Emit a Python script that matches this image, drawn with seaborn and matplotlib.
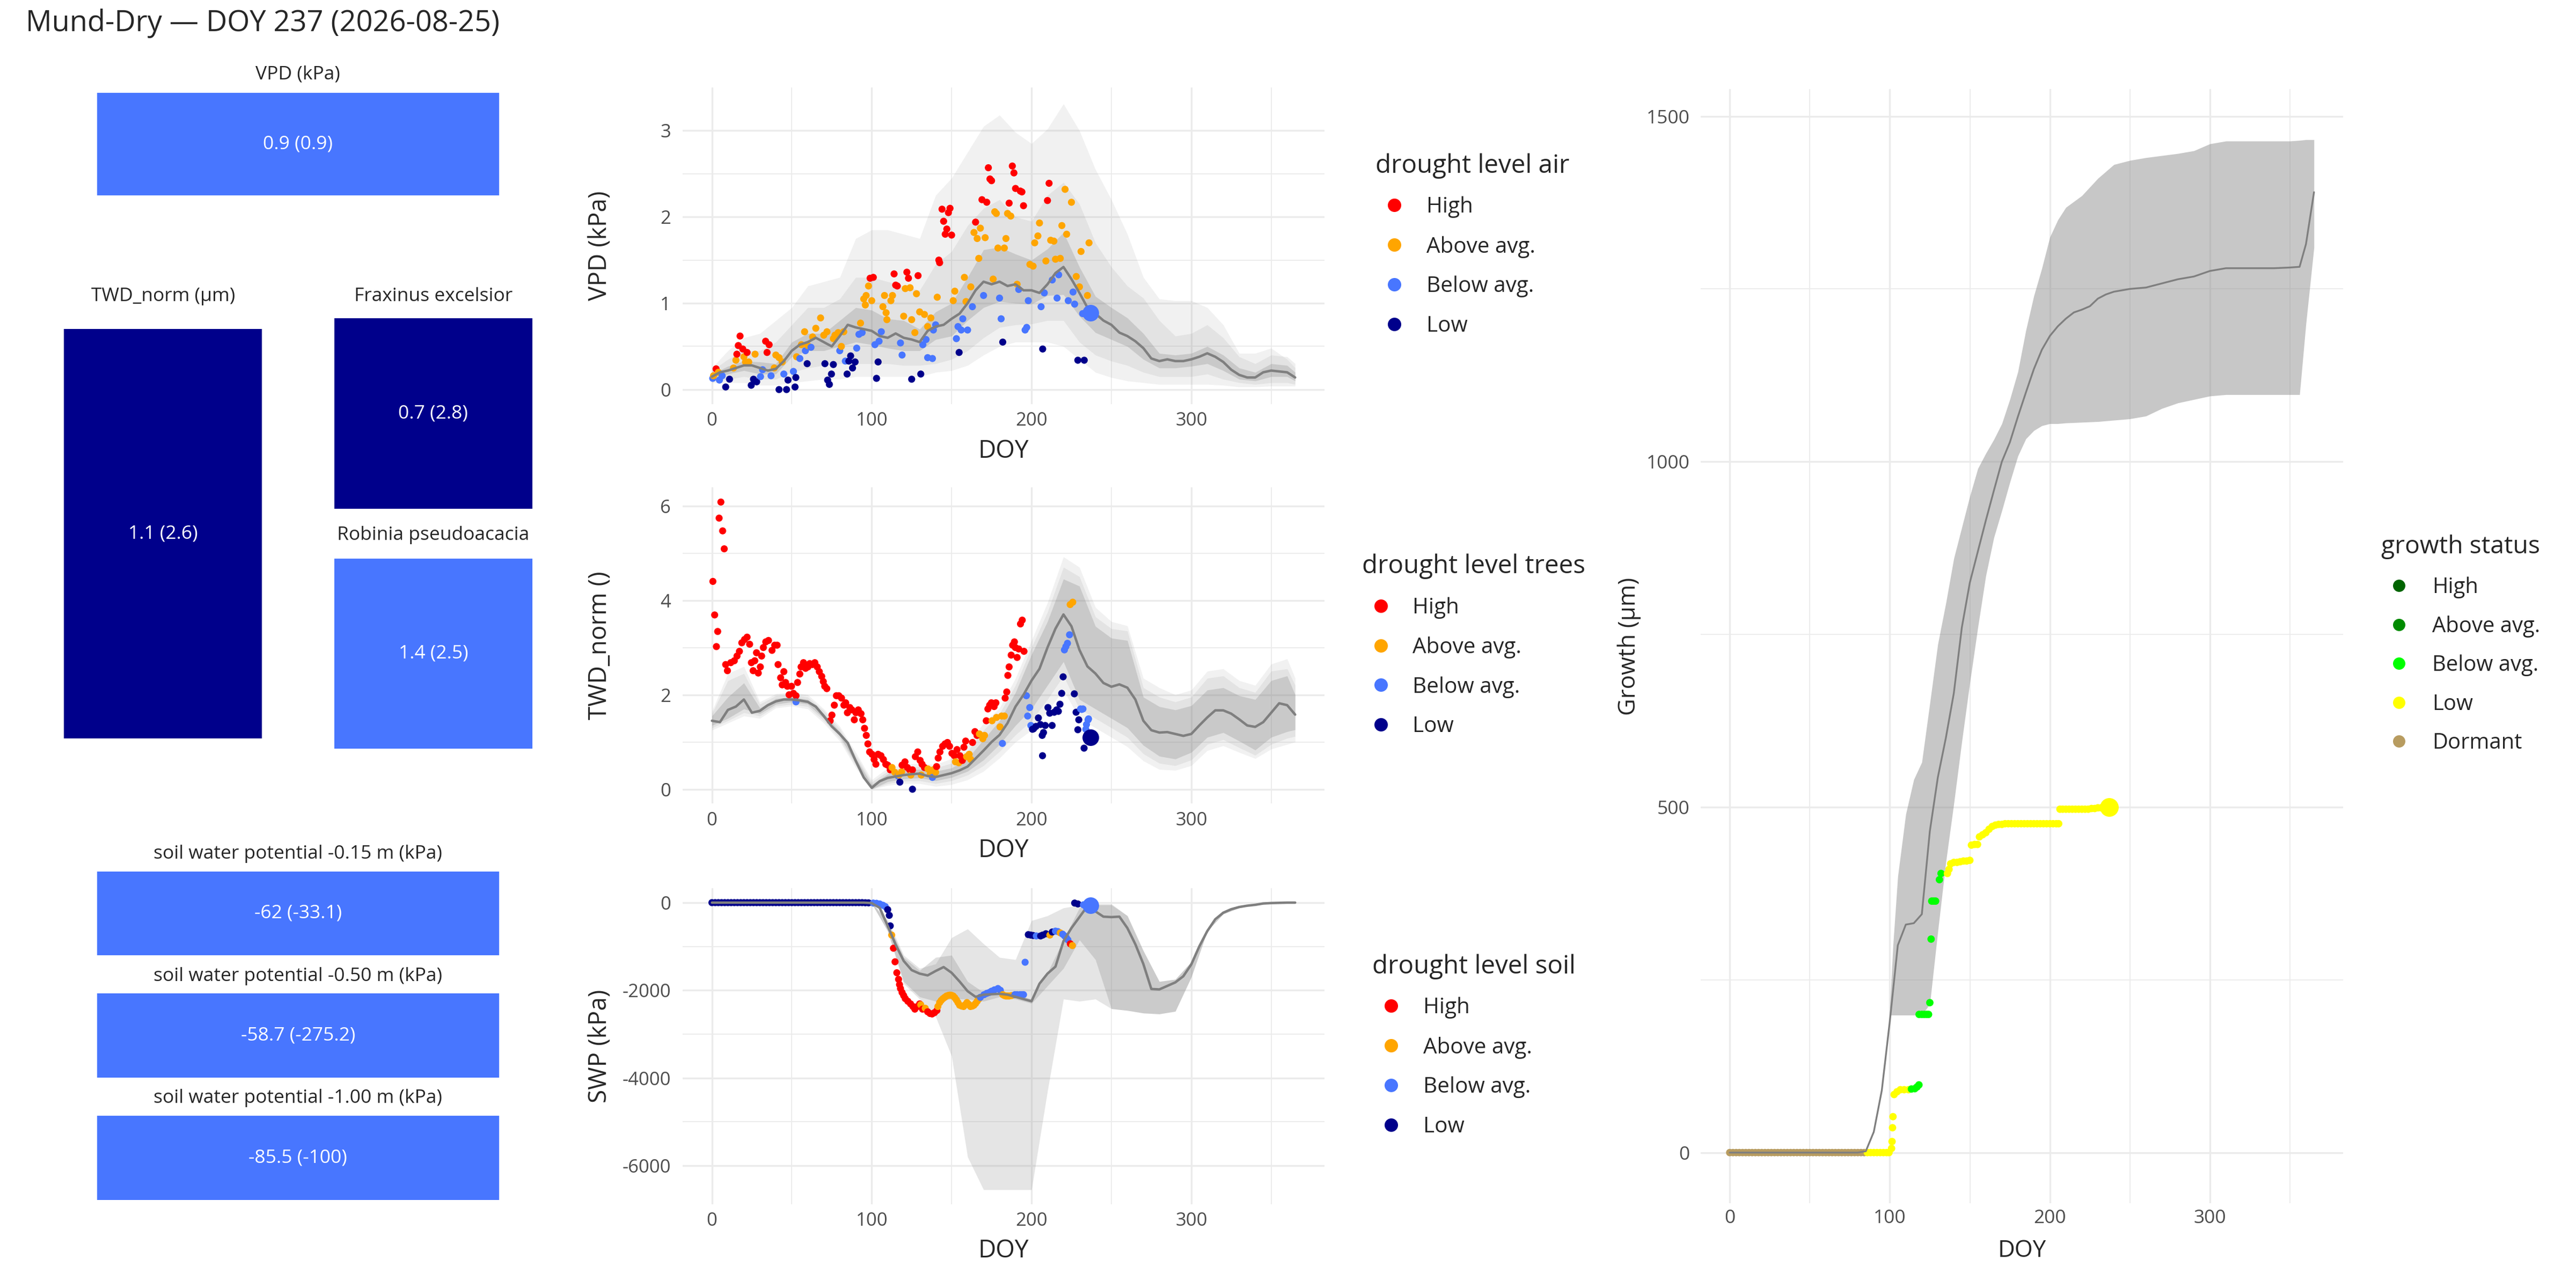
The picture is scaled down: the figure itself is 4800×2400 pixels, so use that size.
import matplotlib
matplotlib.use("Agg")
import matplotlib.pyplot as plt
from matplotlib.lines import Line2D
import pandas as pd
import seaborn as sns

sns.set_style("white")
plt.rcParams["font.family"] = ["Open Sans", "DejaVu Sans"]
plt.rcParams["axes.unicode_minus"] = False

# --------------------------------------------------------------------------
# Data
# --------------------------------------------------------------------------

TITLE = "Mund-Dry — DOY 237 (2026-08-25)"

LEVELS = ["High", "Above avg.", "Below avg.", "Low"]
LEVEL_COLORS = ["#FF0000", "#FFA500", "#4876FF", "#00008B"]
GROWTH_LEVELS = ["High", "Above avg.", "Below avg.", "Low", "Dormant"]
GROWTH_COLORS = ["#006400", "#008B00", "#00FF00", "#FFFF00", "#B89C60"]

# summary tiles on the left
TILE_NAMES = ["VPD (kPa)", "TWD_norm (µm)", "Fraxinus excelsior", "Robinia pseudoacacia",
              "soil water potential -0.15 m (kPa)", "soil water potential -0.50 m (kPa)",
              "soil water potential -1.00 m (kPa)"]
TILE_TEXT = ["0.9 (0.9)", "1.1 (2.6)", "0.7 (2.8)", "1.4 (2.5)",
             "-62 (-33.1)", "-58.7 (-275.2)", "-85.5 (-100)"]
TILE_LEVEL = ["Below avg.", "Low", "Low", "Below avg.", "Below avg.", "Below avg.", "Below avg."]

# day-of-year grids for the climatology ribbons (10 d) and medians (5 d)
BAND_DOY = [0, 10, 20, 30, 40, 50, 60, 70, 80, 90, 100, 110, 120, 130, 140, 150, 160, 170, 180,
            190, 200, 210, 220, 230, 240, 250, 260, 270, 280, 290, 300, 310, 320, 330, 340, 350,
            360, 365]
MED_DOY = [0, 5, 10, 15, 20, 25, 30, 35, 40, 45, 50, 55, 60, 65, 70, 75, 80, 85, 90, 95, 100, 105,
           110, 115, 120, 125, 130, 135, 140, 145, 150, 155, 160, 165, 170, 175, 180, 185, 190,
           195, 200, 205, 210, 215, 220, 225, 230, 235, 240, 245, 250, 255, 260, 265, 270, 275,
           280, 285, 290, 295, 300, 305, 310, 315, 320, 325, 330, 335, 340, 345, 350, 355, 360,
           365]

# ---- VPD ----
VPD_MED = [0.15, 0.20, 0.22, 0.25, 0.28, 0.28, 0.25, 0.22, 0.24, 0.33, 0.45, 0.52, 0.55, 0.60,
           0.55, 0.50, 0.62, 0.75, 0.72, 0.70, 0.68, 0.62, 0.60, 0.65, 0.60, 0.58, 0.55, 0.68,
           0.73, 0.75, 0.82, 0.88, 1.00, 1.15, 1.25, 1.22, 1.25, 1.20, 1.22, 1.15, 1.15, 1.12,
           1.22, 1.35, 1.42, 1.28, 1.12, 0.95, 0.88, 0.80, 0.75, 0.66, 0.62, 0.56, 0.48, 0.36,
           0.33, 0.35, 0.33, 0.33, 0.35, 0.38, 0.42, 0.38, 0.32, 0.23, 0.17, 0.14, 0.14, 0.20,
           0.22, 0.21, 0.20, 0.14]
VPD_DARK_HI = [0.18, 0.27, 0.33, 0.32, 0.30, 0.55, 0.65, 0.65, 0.80, 0.95, 0.92, 0.82, 0.80, 0.70,
               0.90, 1.00, 1.30, 1.62, 1.65, 1.57, 1.50, 1.63, 1.82, 1.42, 1.08, 0.95, 0.83, 0.65,
               0.42, 0.40, 0.42, 0.50, 0.40, 0.25, 0.20, 0.30, 0.28, 0.20]
VPD_DARK_LO = [0.12, 0.18, 0.22, 0.18, 0.18, 0.38, 0.45, 0.45, 0.50, 0.55, 0.52, 0.48, 0.45, 0.45,
               0.58, 0.62, 0.80, 0.95, 1.02, 1.00, 0.99, 1.09, 1.10, 0.85, 0.66, 0.58, 0.50, 0.35,
               0.25, 0.25, 0.27, 0.30, 0.22, 0.12, 0.10, 0.15, 0.15, 0.10]
VPD_MID_HI = [0.22, 0.35, 0.45, 0.45, 0.55, 0.75, 0.95, 0.95, 1.05, 1.30, 1.30, 1.25, 1.20, 1.15,
              1.45, 1.60, 1.90, 2.10, 2.20, 2.00, 1.95, 2.25, 2.40, 2.15, 1.70, 1.42, 1.20, 1.06,
              0.80, 0.62, 0.65, 0.75, 0.60, 0.38, 0.30, 0.40, 0.38, 0.30]
VPD_MID_LO = [0.10, 0.12, 0.15, 0.12, 0.12, 0.20, 0.25, 0.28, 0.30, 0.30, 0.30, 0.30, 0.28, 0.28,
              0.30, 0.35, 0.45, 0.60, 0.72, 0.75, 0.76, 0.80, 0.80, 0.55, 0.40, 0.33, 0.28, 0.20,
              0.15, 0.15, 0.15, 0.18, 0.12, 0.08, 0.06, 0.08, 0.08, 0.06]
VPD_OUT_HI = [0.25, 0.45, 0.60, 0.65, 0.80, 0.95, 1.20, 1.25, 1.30, 1.75, 1.85, 1.85, 1.80, 1.75,
              2.25, 2.45, 2.75, 3.05, 3.18, 2.98, 2.85, 3.02, 3.31, 3.00, 2.55, 2.20, 1.80, 1.30,
              1.05, 1.03, 1.03, 0.95, 0.75, 0.42, 0.42, 0.48, 0.35, 0.25]
VPD_OUT_LO = [0.08, 0.08, 0.08, 0.05, 0.05, 0.08, 0.10, 0.12, 0.12, 0.15, 0.15, 0.15, 0.15, 0.15,
              0.20, 0.22, 0.28, 0.40, 0.50, 0.55, 0.55, 0.55, 0.50, 0.35, 0.20, 0.14, 0.10, 0.08,
              0.06, 0.06, 0.06, 0.06, 0.05, 0.03, 0.03, 0.04, 0.04, 0.04]

VPD_HIGH = [(2.6, 0.24), (15.6, 0.41), (16.5, 0.51), (17.6, 0.62), (19.3, 0.47), (22, 0.43),
            (33.6, 0.56), (34.5, 0.43), (35.8, 0.52), (99, 1.29), (101, 1.30), (114, 1.34),
            (115, 1.21), (116, 1.20), (122, 1.36), (123, 1.29), (129, 1.32), (142, 1.50),
            (142.5, 1.47), (144, 2.09), (145, 1.95), (146, 1.80), (147, 1.86), (148, 2.05),
            (149, 2.10), (150, 1.79), (165, 1.94), (169, 2.20), (172, 2.17), (173, 2.57),
            (174, 2.44), (175, 2.42), (186, 2.16), (188, 2.59), (189, 2.51), (190, 2.33),
            (193, 2.30), (194, 2.29), (195, 2.13), (210, 2.19), (211, 2.39)]
VPD_ABOVE = [(1, 0.16), (4, 0.20), (13.5, 0.25), (15, 0.34), (20, 0.38), (21, 0.32), (23, 0.32),
             (27, 0.41), (39, 0.25), (40, 0.40), (42, 0.37), (44, 0.32), (53, 0.38), (56, 0.52),
             (58, 0.67), (60, 0.51), (63, 0.61), (65, 0.71), (68, 0.83), (70, 0.63), (72, 0.67),
             (76, 0.59), (77, 0.63), (79, 0.66), (81, 0.50), (82.5, 0.67), (93, 0.77), (95, 1.05),
             (96, 0.98), (96.5, 1.09), (98, 1.20), (100, 1.03), (107, 0.96), (108, 1.09),
             (109, 0.89), (109.5, 0.81), (112, 1.03), (113, 1.09), (120, 0.85), (121, 1.17),
             (124, 1.18), (125, 0.81), (127, 0.66), (128, 1.11), (130, 0.90), (133, 0.87),
             (135, 0.73), (137, 0.83), (141, 1.07), (151, 1.03), (152, 1.14), (158, 1.30),
             (159, 1.02), (162, 1.19), (164, 1.82), (166, 1.75), (167, 1.52), (168, 1.87),
             (171, 1.76), (176, 1.28), (177, 2.06), (178, 2.04), (179, 1.64), (183, 1.64),
             (184, 1.75), (185, 2.04), (187, 2.01), (191, 1.22), (199, 1.45), (201, 1.43),
             (202, 1.70), (204, 1.78), (205, 1.93), (209, 1.49), (212, 1.73), (214, 1.72),
             (215, 1.51), (218, 1.52), (219, 1.90), (221, 2.32), (222, 1.80), (225, 2.17),
             (228, 1.31), (230, 1.19), (231, 1.60), (235, 1.09), (236, 1.70)]
VPD_BELOW = [(0.5, 0.13), (4.7, 0.11), (6.4, 0.16), (30.4, 0.15), (31.7, 0.23), (37, 0.16),
             (45, 0.18), (51, 0.21), (55, 0.36), (58.5, 0.45), (62, 0.49), (80, 0.45),
             (83.5, 0.33), (90.6, 0.48), (92, 0.64), (94, 0.66), (102, 0.52), (104.6, 0.56),
             (106, 0.67), (118, 0.54), (119, 0.40), (132, 0.52), (134, 0.58), (135, 0.37),
             (138, 0.36), (138.6, 0.69), (140, 0.75), (153, 0.59), (154, 0.73), (156, 0.69),
             (157, 0.82), (160, 0.69), (163, 0.96), (170, 1.09), (180, 1.06), (181, 0.82),
             (192, 1.16), (196, 0.69), (197, 0.72), (198, 1.03), (206, 0.96), (208, 1.12),
             (213, 1.27), (216, 1.06), (217, 1.33), (223, 1.03), (226, 1.13), (227, 0.99),
             (232, 0.88)]
VPD_LOW = [(8.6, 0.03), (11, 0.12), (24.6, 0.05), (26, 0.12), (28, 0.09), (42, 0.0), (46.7, 0.0),
           (47.6, 0.11), (52, 0.03), (52.5, 0.14), (59.6, 0.30), (70.7, 0.30), (72.4, 0.11),
           (73.5, 0.06), (74.8, 0.18), (76, 0.29), (84.6, 0.18), (85.7, 0.33), (86.8, 0.39),
           (88, 0.25), (89.6, 0.32), (103, 0.13), (104, 0.32), (125, 0.12), (130.7, 0.18),
           (154.7, 0.43), (182, 0.55), (207, 0.47), (229, 0.34), (233, 0.34)]
VPD_TODAY = (237, 0.89, "Below avg.")

# ---- TWD_norm ----
TWD_MED = [1.45, 1.42, 1.68, 1.75, 1.90, 1.62, 1.66, 1.78, 1.86, 1.90, 1.90, 1.88, 1.85, 1.75,
           1.55, 1.33, 1.17, 0.98, 0.60, 0.25, 0.03, 0.17, 0.24, 0.27, 0.30, 0.32, 0.33, 0.28,
           0.26, 0.30, 0.34, 0.40, 0.48, 0.65, 0.82, 1.00, 1.15, 1.40, 1.75, 2.00, 2.30, 2.55,
           3.00, 3.40, 3.70, 3.45, 2.95, 2.60, 2.45, 2.25, 2.17, 2.22, 2.15, 1.90, 1.45, 1.25,
           1.20, 1.21, 1.17, 1.13, 1.17, 1.35, 1.52, 1.67, 1.67, 1.60, 1.48, 1.35, 1.32, 1.42,
           1.62, 1.82, 1.78, 1.58]
TWD_DARK_HI = [1.55, 1.95, 2.25, 1.72, 1.92, 1.95, 1.90, 1.60, 1.22, 0.66, 0.10, 0.32, 0.40, 0.42,
               0.38, 0.45, 0.65, 1.05, 1.45, 2.05, 2.85, 3.55, 4.45, 4.30, 3.45, 3.20, 3.15, 1.95,
               1.75, 1.68, 1.77, 2.10, 2.15, 1.98, 1.90, 2.30, 2.40, 2.00]
TWD_DARK_LO = [1.35, 1.50, 1.70, 1.60, 1.80, 1.85, 1.80, 1.50, 1.12, 0.55, 0.00, 0.16, 0.22, 0.24,
               0.18, 0.25, 0.38, 0.62, 0.95, 1.35, 1.70, 2.20, 2.70, 1.90, 1.70, 1.50, 1.30, 0.93,
               0.70, 0.64, 0.78, 1.10, 1.20, 1.02, 0.83, 1.10, 1.22, 1.26]
TWD_MID_HI = [1.60, 2.30, 2.45, 1.80, 1.98, 2.00, 1.95, 1.66, 1.28, 0.72, 0.15, 0.38, 0.46, 0.48,
              0.45, 0.55, 0.80, 1.25, 1.60, 2.20, 3.00, 3.75, 4.70, 4.50, 3.65, 3.40, 3.35, 2.15,
              1.95, 1.85, 1.95, 2.35, 2.40, 2.15, 2.05, 2.50, 2.55, 2.20]
TWD_MID_LO = [1.30, 1.45, 1.62, 1.55, 1.76, 1.80, 1.75, 1.45, 1.07, 0.50, 0.00, 0.12, 0.17, 0.18,
              0.12, 0.18, 0.30, 0.50, 0.80, 1.15, 1.45, 1.90, 2.40, 1.70, 1.50, 1.30, 1.10, 0.75,
              0.55, 0.50, 0.62, 0.95, 1.05, 0.88, 0.72, 0.95, 1.08, 1.12]
TWD_OUT_HI = [1.65, 2.45, 2.60, 1.85, 2.02, 2.05, 2.00, 1.70, 1.33, 0.78, 0.20, 0.45, 0.52, 0.55,
              0.52, 0.65, 0.95, 1.40, 1.72, 2.35, 3.15, 3.95, 4.92, 4.70, 3.85, 3.55, 3.46, 2.35,
              2.15, 2.00, 2.10, 2.50, 2.55, 2.30, 2.20, 2.65, 2.76, 2.35]
TWD_OUT_LO = [1.25, 1.40, 1.55, 1.50, 1.72, 1.76, 1.70, 1.40, 1.02, 0.45, 0.00, 0.08, 0.12, 0.12,
              0.06, 0.10, 0.20, 0.38, 0.66, 1.00, 1.25, 1.65, 2.10, 1.50, 1.30, 1.10, 0.90, 0.60,
              0.42, 0.40, 0.50, 0.82, 0.92, 0.78, 0.65, 0.85, 0.95, 1.00]

TWD_HIGH = [(0.6, 4.40), (1.7, 3.69), (2.8, 3.02), (3.6, 3.34), (4.5, 5.74), (5.6, 6.08),
            (6.7, 5.47), (7.7, 5.09), (8.6, 2.64), (9.7, 2.51), (11.8, 2.68), (14, 2.72),
            (15.7, 2.82), (17.2, 2.92), (18.7, 3.10), (20.4, 3.17), (22, 3.22), (23.6, 3.07),
            (24.7, 2.68), (25.8, 2.51), (26.8, 2.72), (27.9, 2.89), (29, 2.46), (30.3, 2.59),
            (31.1, 2.82), (32.2, 3.00), (33.7, 3.12), (35.4, 3.15), (37.6, 2.94), (39.3, 3.05),
            (40.8, 3.05), (41.4, 2.64), (43, 2.36), (44, 2.21), (45, 2.49), (46.1, 2.26),
            (47.2, 2.18), (48.3, 2.00), (49.8, 2.18), (51, 2.03), (52.6, 1.98), (53.6, 2.26),
            (55, 2.44), (55.8, 2.59), (57.3, 2.68), (58.6, 2.56), (60.1, 2.59), (61.2, 2.66),
            (62.9, 2.64), (64.4, 2.68), (65.9, 2.59), (67.2, 2.49), (68.7, 2.39), (69.7, 2.28),
            (70.6, 2.18), (71.9, 2.13), (74, 1.45), (75.1, 1.57), (76.6, 1.78), (77.9, 1.98),
            (79.4, 1.98), (81.1, 1.93), (82.6, 1.78), (83.7, 1.83), (84.8, 1.62), (86.3, 1.73),
            (87.6, 1.68), (89.1, 1.47), (90.1, 1.62), (91.6, 1.68), (93.3, 1.60), (94.4, 1.47),
            (95.5, 1.29), (96.6, 1.14), (97.6, 0.96), (98.7, 0.79), (100.2, 0.74), (101.5, 0.63),
            (102.6, 0.53), (104, 0.74), (105.8, 0.71), (107.3, 0.63), (108.8, 0.53), (110, 0.51),
            (111.6, 0.41), (119, 0.51), (120.8, 0.58), (122.3, 0.46), (123.8, 0.41),
            (125.5, 0.41), (127.3, 0.69), (128.8, 0.79), (130.3, 0.61), (131.5, 0.53),
            (133, 0.46), (140.6, 0.48), (141.6, 0.66), (142.7, 0.79), (144.4, 0.91),
            (145.9, 0.96), (147.4, 0.99), (148.7, 0.91), (150.2, 0.76), (151.7, 0.71),
            (153.4, 0.84), (155.2, 0.71), (156.7, 0.61), (157.7, 0.89), (158.8, 1.02),
            (163.1, 0.99), (164.6, 1.22), (165.9, 1.14), (171.7, 1.45), (172.7, 1.70),
            (173.8, 1.78), (174.9, 1.83), (176.6, 1.75), (177.7, 1.83), (183.5, 1.93),
            (184.5, 2.06), (185.2, 2.41), (186, 2.59), (187.3, 2.84), (188.2, 3.05),
            (189.3, 3.12), (189.9, 3.00), (191, 2.79), (192, 2.97), (193.1, 3.50), (194.2, 3.58),
            (195.3, 2.92)]
TWD_ABOVE = [(112.7, 0.46), (114.4, 0.36), (117, 0.30), (118.7, 0.37), (124.5, 0.30), (131, 0.30),
             (135.2, 0.43), (136.7, 0.33), (138.4, 0.41), (140, 0.36), (152.4, 0.58),
             (154.5, 0.56), (159.4, 0.69), (161, 0.74), (162, 0.63), (167.4, 1.17),
             (169.5, 1.07), (170.6, 1.14), (175.3, 1.45), (178.1, 1.52), (180.3, 1.32),
             (181.3, 1.55), (183, 1.55), (224.2, 3.91), (225.8, 3.96)]
TWD_BELOW = [(52.6, 1.85), (116.5, 0.28), (138, 0.25), (181.8, 0.97), (196.8, 1.98), (197.6, 1.55),
             (198.9, 1.73), (199.6, 1.35), (220.6, 2.95), (221.5, 3.02), (222.5, 3.09),
             (223.8, 3.27), (230.7, 1.70), (231.4, 1.69), (232.2, 1.70), (234, 1.27),
             (234.4, 1.37), (235.4, 1.47), (235.7, 1.49)]
TWD_LOW = [(117.6, 0.15), (125.5, 0.0), (200.6, 1.27), (201.3, 1.28), (202.8, 1.33), (204.3, 1.51),
           (205.6, 1.37), (206.7, 1.14), (206.9, 0.71), (207.5, 1.20), (208.6, 1.35),
           (210.3, 1.73), (211.4, 1.61), (212.9, 1.35), (214.2, 1.63), (215.7, 1.68),
           (216.8, 1.65), (217.8, 1.80), (218.9, 2.03), (219.8, 2.38), (226.8, 2.02),
           (227.9, 1.63), (229, 1.26), (229.6, 1.47), (232.9, 0.87)]
TWD_TODAY = (237, 1.1, "Low")

# ---- soil water potential ----
SWP_MED = [0, 0, 0, 0, 0, 0, 0, 0, 0, 0, 0, 0, 0, 0, 0, 0, 0, 0, 0, 0, -10, -120, -530, -960,
           -1330, -1540, -1620, -1660, -1560, -1470, -1600, -1800, -2020, -2150, -2100, -2090,
           -2080, -2100, -2150, -2200, -2250, -1850, -1620, -1460, -880, -580, -330, -80, -200,
           -320, -330, -320, -580, -950, -1400, -1970, -1980, -1900, -1820, -1680, -1410, -1000,
           -650, -380, -230, -150, -100, -70, -50, -20, -10, -5, 0, 0]
SWP_DARK_HI = [0, 0, 0, 0, 0, 0, 0, 0, 0, 0, 0, -450, -1250, -1550, -1250, -1200, -1800, -2050,
               -2050, -2100, -2200, -1600, -850, -120, -50, -50, -300, -1100, -1800, -1750, -1350,
               -600, -230, -100, -40, -10, 0, 0]
SWP_DARK_LO = [0, 0, 0, 0, 0, 0, 0, 0, 0, 0, -20, -650, -1800, -2150, -2250, -2200, -2200, -2250,
               -2150, -2200, -2300, -1900, -1500, -850, -1300, -2420, -2460, -2520, -2540, -2480,
               -1700, -650, -260, -120, -50, -10, 0, 0]
SWP_OUT_HI = [0, 0, 0, 0, 0, 0, 0, 0, 0, 0, 0, -400, -1200, -1500, -1400, -800, -600, -940, -1250,
              -1300, -410, -300, -120, -60, -30, -30, -300, -1100, -1800, -1750, -1350, -600,
              -230, -100, -40, -10, 0, 0]
SWP_OUT_LO = [0, 0, 0, 0, 0, 0, 0, 0, 0, 0, -20, -650, -1850, -2200, -2600, -3500, -5800, -6550,
              -6550, -6550, -6550, -4300, -2200, -2250, -2200, -2420, -2460, -2520, -2540, -2480,
              -1700, -650, -260, -120, -50, -10, 0, 0]

SWP_HIGH = [(113.6, -1040), (114.6, -1350), (115.7, -1600), (116.8, -1750), (117.4, -1870),
            (118, -1960), (119, -2050), (120, -2120), (121, -2190), (122.6, -2250),
            (124.3, -2310), (125.8, -2370), (127, -2430), (128.6, -2370), (130, -2310),
            (131.8, -2430), (135, -2490), (136.5, -2530), (137.8, -2540), (139.3, -2510),
            (140.8, -2460), (224.3, -940)]
SWP_ABOVE = [(112.5, -740), (130.7, -2330), (133.5, -2410), (141.4, -2370), (142.5, -2280),
             (143.5, -2230), (144.6, -2190), (145.7, -2160), (146.8, -2130), (148, -2115),
             (149, -2110), (150, -2115), (151, -2130), (152, -2170), (153, -2220), (154, -2280),
             (155, -2340), (156.3, -2360), (157.5, -2370), (158.5, -2330), (159.6, -2280),
             (160.7, -2320), (161.8, -2370), (163, -2360), (164, -2340), (165, -2300),
             (166, -2250), (167, -2200), (182, -2100), (183, -2120), (184, -2130), (185, -2130),
             (186, -2130), (187.5, -2120), (211.5, -740), (218, -690), (225.6, -980)]
SWP_BELOW = [(101, -10), (103, -15), (105, -30), (107, -60), (108.5, -90), (168, -2160),
             (170.3, -2100), (172, -2070), (173.6, -2050), (175, -2020), (176.8, -1990),
             (179, -1960), (180.5, -2000), (189.6, -2100), (191, -2100), (192.8, -2100),
             (194, -2100), (195, -2100), (196, -1360), (203, -760), (215, -650), (216.5, -660),
             (219.5, -720), (220.7, -760), (221.8, -800), (222.8, -850), (232.5, -50),
             (234, -55)]
SWP_LOW = [(0, 0), (2, 0), (4, 0), (6, 0), (8, 0), (10, 0), (12, 0), (14, 0), (16, 0), (18, 0),
           (20, 0), (22, 0), (24, 0), (26, 0), (28, 0), (30, 0), (32, 0), (34, 0), (36, 0),
           (38, 0), (40, 0), (42, 0), (44, 0), (46, 0), (48, 0), (50, 0), (52, 0), (54, 0),
           (56, 0), (58, 0), (60, 0), (62, 0), (64, 0), (66, 0), (68, 0), (70, 0), (72, 0),
           (74, 0), (76, 0), (78, 0), (80, 0), (82, 0), (84, 0), (86, 0), (88, 0), (90, 0),
           (92, 0), (94, 0), (96, -3), (98, -5), (110, -160), (111, -290), (111.6, -530),
           (198, -730), (199.5, -740), (201, -750), (205.7, -760), (207, -740), (209, -710),
           (213, -670), (227, -10), (229, -30)]
SWP_TODAY = (237, -60, "Below avg.")

# ---- cumulative growth ----
GROWTH_MED_DOY = [0, 80, 85, 90, 95, 100, 105, 110, 115, 120, 125, 130, 135, 140, 145, 150, 155,
                  160, 165, 170, 175, 180, 185, 190, 195, 200, 205, 210, 215, 220, 225, 230, 235,
                  240, 245, 250, 260, 270, 280, 290, 300, 310, 320, 330, 340, 350, 356, 360, 365]
GROWTH_MED = [0, 0, 2, 30, 90, 190, 300, 330, 332, 345, 465, 543, 600, 665, 760, 825, 870, 915,
              958, 1000, 1028, 1065, 1100, 1134, 1162, 1182, 1196, 1207, 1216, 1220, 1225, 1236,
              1242, 1246, 1248, 1250, 1252, 1258, 1264, 1268, 1276, 1280, 1280, 1280, 1280, 1281,
              1282, 1315, 1390]
GROWTH_BAND_DOY = [100, 102, 105, 110, 115, 120, 125, 130, 135, 140, 145, 150, 155, 160, 165, 170,
                   175, 180, 185, 190, 195, 200, 205, 210, 220, 230, 240, 250, 260, 270, 280, 290,
                   300, 310, 320, 330, 340, 350, 356, 360, 365]
GROWTH_HI = [210, 300, 400, 490, 540, 565, 650, 736, 795, 860, 905, 950, 990, 1012, 1032, 1055,
             1090, 1130, 1190, 1240, 1280, 1325, 1350, 1368, 1385, 1410, 1430, 1436, 1440, 1443,
             1446, 1450, 1460, 1464, 1464, 1464, 1464, 1464, 1465, 1466, 1466]
GROWTH_LO = [199, 199, 199, 199, 199, 199, 215, 320, 420, 505, 595, 680, 760, 835, 890, 929, 970,
             1008, 1033, 1045, 1052, 1055, 1055, 1056, 1057, 1058, 1060, 1062, 1066, 1077, 1085,
             1090, 1095, 1097, 1097, 1097, 1097, 1097, 1097, 1200, 1310]

GROWTH_DORMANT = [(0, 0), (2, 0), (4, 0), (6, 0), (8, 0), (10, 0), (12, 0), (14, 0), (16, 0),
                  (18, 0), (20, 0), (22, 0), (24, 0), (26, 0), (28, 0), (30, 0), (32, 0), (34, 0),
                  (36, 0), (38, 0), (40, 0), (42, 0), (44, 0), (46, 0), (48, 0), (50, 0), (52, 0),
                  (54, 0), (56, 0), (58, 0), (60, 0), (62, 0), (64, 0), (66, 0), (68, 0), (70, 0),
                  (72, 0), (74, 0), (76, 0), (78, 0), (80, 0), (82, 0), (84, 0)]
GROWTH_LOW = [(86, 0), (88, 0), (90, 0), (92, 0), (94, 0), (96, 0), (98, 0), (99.5, 0),
              (101.1, 6), (101.4, 16), (101.7, 36), (102.0, 52), (102.7, 84), (104.5, 88),
              (106.6, 91), (109, 91), (111.7, 91), (136, 404), (137, 410), (138, 418), (140, 420),
              (142, 420), (144, 421), (146, 422), (148, 422), (150, 423), (151, 445), (153, 446),
              (154.8, 446), (156, 457), (158, 460), (160, 463), (162, 468), (164, 472),
              (166, 474), (168, 475), (170, 475), (172, 476), (174, 476), (176, 476), (178, 476),
              (180, 476), (182, 476), (184, 476), (186, 476), (188, 476), (190, 476), (192, 476),
              (194, 476), (196, 476), (198, 476), (200, 476), (202, 476), (204, 476),
              (205.5, 476), (206.3, 497), (208, 497), (210, 497), (212, 497), (214, 497),
              (216, 497), (218, 497), (220, 497), (222, 497), (224, 497), (226, 498), (228, 498),
              (230, 499), (232, 499), (234, 500)]
GROWTH_BELOW = [(113.5, 92), (115.6, 92.5), (117, 95), (118.2, 98), (118.3, 200), (120, 200),
                (121.5, 200), (123, 200), (124.2, 200), (125, 217), (125.8, 309), (126.2, 364),
                (127.4, 364), (128.6, 364), (131, 395), (132, 404)]
GROWTH_TODAY = (237, 500, "Low")

# --------------------------------------------------------------------------
# Layout (reference pixel boxes on a 1568 x 784 grid)
# --------------------------------------------------------------------------

REF_W, REF_H = 1568.0, 784.0
TILE_BOXES = [(59.1, 56.5, 303.7, 118.8), (38.9, 200.4, 159.5, 449.4),
              (203.5, 193.7, 324.0, 309.8), (203.5, 340.0, 324.0, 455.7),
              (59.1, 530.4, 303.7, 581.5), (59.1, 604.7, 303.7, 655.9),
              (59.1, 679.2, 303.7, 730.3)]
TILE_TITLE_Y = [45.3, 180.4, 180.4, 325.8, 519.8, 594.2, 668.5]
GRID = "#EBEBEB"
BAND_GREY = "#7F7F7F"


def fig_box(x0, y0, x1, y1):
    return [x0 / REF_W, 1 - y1 / REF_H, (x1 - x0) / REF_W, (y1 - y0) / REF_H]


def points_frame(groups):
    rows = []
    for level, pts in groups.items():
        rows += [(d, v, level) for d, v in pts]
    return pd.DataFrame(rows, columns=["doy", "value", "level"]).sort_values("doy")


def style_axes(ax, ylim, yticks, yminor, ylabel, ylabel_x, xlabel_y, tick_fs, label_fs,
               xpad, ypad):
    ax.set_xlim(-18.25, 383.25)
    ax.set_ylim(*ylim)
    ax.set_xticks([0, 100, 200, 300])
    ax.set_xticks([50, 150, 250, 350], minor=True)
    ax.set_yticks(yticks)
    ax.set_yticks(yminor, minor=True)
    ax.grid(which="major", color=GRID, linewidth=0.8)
    ax.grid(which="minor", color=GRID, linewidth=0.45)
    ax.set_axisbelow(True)
    ax.tick_params(which="both", length=0, labelsize=tick_fs, labelcolor="#4D4D4D")
    ax.tick_params(axis="x", pad=xpad)
    ax.tick_params(axis="y", pad=ypad)
    for spine in ax.spines.values():
        spine.set_visible(False)
    ax.set_xlabel("DOY", fontsize=label_fs)
    ax.set_ylabel(ylabel, fontsize=label_fs)
    ax.xaxis.set_label_coords(0.5, xlabel_y)
    ax.yaxis.set_label_coords(ylabel_x, 0.5)


def add_legend(fig, title, labels, colors, left, top, title_fs, label_fs, marker_size,
               spacing, handle_len, text_pad):
    handles = [Line2D([], [], linestyle="", marker="o", markersize=marker_size,
                      markerfacecolor=c, markeredgewidth=0) for c in colors]
    fig.legend(handles, labels, title=title, loc="upper left",
               bbox_to_anchor=(left / REF_W, 1 - top / REF_H), frameon=False, borderpad=0,
               borderaxespad=0, fontsize=label_fs, title_fontsize=title_fs,
               labelspacing=spacing, handlelength=handle_len, handletextpad=text_pad,
               alignment="left")


def draw_series(ax, bands, median, groups, today, palette, size, today_size, lw):
    for lo, hi, alpha in bands:
        ax.fill_between(BAND_DOY, lo, hi, color=BAND_GREY, alpha=alpha, linewidth=0)
    sns.lineplot(x=MED_DOY, y=median, color=BAND_GREY, linewidth=lw, ax=ax)
    sns.scatterplot(data=points_frame(groups), x="doy", y="value", hue="level",
                    palette=palette, s=size, linewidth=0, legend=False, ax=ax)
    ax.scatter([today[0]], [today[1]], s=today_size, color=palette[today[2]], linewidth=0,
               zorder=5)


# --------------------------------------------------------------------------
# Figure
# --------------------------------------------------------------------------

fig = plt.figure(figsize=(16, 8), dpi=300)
fig.text(15.6 / REF_W, 1 - 14.2 / REF_H, TITLE, fontsize=13, ha="left", va="center")

level_pal = dict(zip(LEVELS, LEVEL_COLORS))
growth_pal = dict(zip(GROWTH_LEVELS, GROWTH_COLORS))

# summary tiles
for box, name, text, level, ty in zip(TILE_BOXES, TILE_NAMES, TILE_TEXT, TILE_LEVEL,
                                      TILE_TITLE_Y):
    tax = fig.add_axes(fig_box(*box))
    tax.set_facecolor(level_pal[level])
    tax.set_xticks([])
    tax.set_yticks([])
    for spine in tax.spines.values():
        spine.set_visible(False)
    tax.text(0.5, 0.5, text, color="white", fontsize=8.5, ha="center", va="center",
             transform=tax.transAxes)
    fig.text((box[0] + box[2]) / 2 / REF_W, 1 - ty / REF_H, name, fontsize=8.5,
             ha="center", va="center")

# middle column: shared styling
MID_TICK_FS, MID_LABEL_FS = 8.3, 11
LEG_TITLE_FS, LEG_LABEL_FS = 11.4, 9.7
LEG_SPACING = 0.82

# VPD
ax = fig.add_axes(fig_box(415.6, 53.4, 806.1, 245.9))
draw_series(ax, [(VPD_OUT_LO, VPD_OUT_HI, 0.10), (VPD_MID_LO, VPD_MID_HI, 0.12),
                 (VPD_DARK_LO, VPD_DARK_HI, 0.25)], VPD_MED,
            {"High": VPD_HIGH, "Above avg.": VPD_ABOVE, "Below avg.": VPD_BELOW,
             "Low": VPD_LOW}, VPD_TODAY, level_pal, 10, 55, 1.1)
style_axes(ax, (-0.167, 3.497), [0, 1, 2, 3], [0.5, 1.5, 2.5], "VPD (kPa)", -0.11, -0.11,
           MID_TICK_FS, MID_LABEL_FS, 3.5, 5.3)
add_legend(fig, "drought level air", LEVELS, LEVEL_COLORS, 837.4, 93.2, LEG_TITLE_FS,
           LEG_LABEL_FS, 6, LEG_SPACING, 1.73, 0.61)

# TWD
ax = fig.add_axes(fig_box(415.6, 296.6, 806.1, 489.0))
draw_series(ax, [(TWD_OUT_LO, TWD_OUT_HI, 0.10), (TWD_MID_LO, TWD_MID_HI, 0.12),
                 (TWD_DARK_LO, TWD_DARK_HI, 0.25)], TWD_MED,
            {"High": TWD_HIGH, "Above avg.": TWD_ABOVE, "Below avg.": TWD_BELOW,
             "Low": TWD_LOW}, TWD_TODAY, level_pal, 10, 55, 1.1)
style_axes(ax, (-0.299, 6.393), [0, 2, 4, 6], [1, 3, 5], "TWD_norm ()", -0.11, -0.11,
           MID_TICK_FS, MID_LABEL_FS, 3.5, 5.3)
add_legend(fig, "drought level trees", LEVELS, LEVEL_COLORS, 829.0, 337.0, LEG_TITLE_FS,
           LEG_LABEL_FS, 6, LEG_SPACING, 1.73, 0.61)

# SWP
ax = fig.add_axes(fig_box(415.6, 540.7, 806.1, 732.9))
draw_series(ax, [(SWP_OUT_LO, SWP_OUT_HI, 0.20), (SWP_DARK_LO, SWP_DARK_HI, 0.25)], SWP_MED,
            {"High": SWP_HIGH, "Above avg.": SWP_ABOVE, "Below avg.": SWP_BELOW,
             "Low": SWP_LOW}, SWP_TODAY, level_pal, 10, 55, 1.1)
style_axes(ax, (-6877, 327), [0, -2000, -4000, -6000], [-1000, -3000, -5000], "SWP (kPa)",
           -0.11, -0.11, MID_TICK_FS, MID_LABEL_FS, 3.5, 5.3)
add_legend(fig, "drought level soil", LEVELS, LEVEL_COLORS, 835.3, 580.6, LEG_TITLE_FS,
           LEG_LABEL_FS, 6, LEG_SPACING, 1.73, 0.61)

# growth
ax = fig.add_axes(fig_box(1035.1, 54.2, 1426.3, 732.4))
ax.fill_between(GROWTH_BAND_DOY, GROWTH_LO, GROWTH_HI, color=BAND_GREY, alpha=0.43,
                linewidth=0)
sns.lineplot(x=GROWTH_MED_DOY, y=GROWTH_MED, color=BAND_GREY, linewidth=0.8, ax=ax)
sns.scatterplot(data=points_frame({"Dormant": GROWTH_DORMANT, "Low": GROWTH_LOW,
                                   "Below avg.": GROWTH_BELOW}),
                x="doy", y="value", hue="level", palette=growth_pal, s=11, linewidth=0,
                legend=False, ax=ax)
ax.scatter([GROWTH_TODAY[0]], [GROWTH_TODAY[1]], s=70, color=growth_pal[GROWTH_TODAY[2]],
           linewidth=0, zorder=5)
style_axes(ax, (-73.3, 1539.3), [0, 500, 1000, 1500], [250, 750, 1250], "Growth (µm)",
           -0.092, -0.032, 8.5, 10.5, 2.7, 4.9)
add_legend(fig, "growth status", GROWTH_LEVELS, GROWTH_COLORS, 1449.4, 325.4, 11.1, 9.6, 5.5,
           0.8, 1.65, 0.72)

fig.savefig("out.png", dpi=300, facecolor="white")
